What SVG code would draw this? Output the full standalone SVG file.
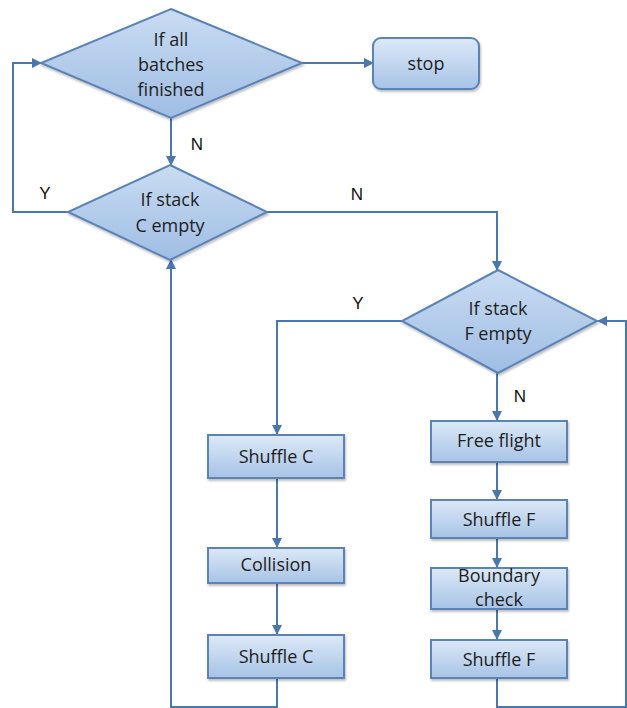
<svg xmlns="http://www.w3.org/2000/svg" width="627" height="708" viewBox="0 0 627 708">
<defs>
<linearGradient id="gb" x1="0" y1="0" x2="0" y2="1">
<stop offset="0" stop-color="#dce9f7"/>
<stop offset="1" stop-color="#a7c3e6"/>
</linearGradient>
<linearGradient id="gd" x1="0" y1="0" x2="0" y2="1">
<stop offset="0" stop-color="#c9dcf2"/>
<stop offset="1" stop-color="#9fbde4"/>
</linearGradient>
<marker id="ah" markerWidth="10" markerHeight="10" refX="9" refY="5" orient="auto" markerUnits="userSpaceOnUse">
<path d="M0,0 L10,5 L0,10 z" fill="#4a78ad"/>
</marker>
<filter id="sh" x="-10%" y="-10%" width="130%" height="140%">
<feDropShadow dx="1" dy="2" stdDeviation="1.2" flood-color="#000" flood-opacity="0.25"/>
</filter>
</defs>
<style>
.box{fill:url(#gb);stroke:#5b83b5;stroke-width:2;filter:url(#sh)}
.dia{fill:url(#gd);stroke:#5b83b5;stroke-width:2;filter:url(#sh)}
.t{font-family:"Open Sans","Noto Sans","Liberation Sans",sans-serif;font-size:18px;fill:#1e1e1e;text-anchor:middle}
.lbl{font-family:"Liberation Sans","Noto Sans",sans-serif;font-size:17px;fill:#111;text-anchor:middle}
.c{fill:none;stroke:#4a78ad;stroke-width:2}
</style>
<rect width="627" height="708" fill="#ffffff"/>
<g id="connectors">
<line class="c" x1="302" y1="63" x2="373" y2="63" marker-end="url(#ah)"/>
<line class="c" x1="171" y1="118" x2="171" y2="165" marker-end="url(#ah)"/>
<polyline class="c" points="68,212 13,212 13,63 41,63" marker-end="url(#ah)"/>
<polyline class="c" points="267,212 497,212 497,270" marker-end="url(#ah)"/>
<polyline class="c" points="402,321 277,321 277,434" marker-end="url(#ah)"/>
<line class="c" x1="497" y1="373" x2="497" y2="420" marker-end="url(#ah)"/>
<line class="c" x1="277" y1="478" x2="277" y2="547" marker-end="url(#ah)"/>
<line class="c" x1="277" y1="583" x2="277" y2="634" marker-end="url(#ah)"/>
<line class="c" x1="497" y1="462" x2="497" y2="499" marker-end="url(#ah)"/>
<line class="c" x1="497" y1="538" x2="497" y2="567" marker-end="url(#ah)"/>
<line class="c" x1="497" y1="609" x2="497" y2="639" marker-end="url(#ah)"/>
<polyline class="c" points="277,678 277,707 171,707 171,260" marker-end="url(#ah)"/>
<polyline class="c" points="497,678 497,707 626,707 626,321 598,321" marker-end="url(#ah)"/>
<text class="lbl" x="197" y="150">N</text>
<text class="lbl" x="45" y="199">Y</text>
<text class="lbl" x="357" y="200">N</text>
<text class="lbl" x="358" y="309">Y</text>
<text class="lbl" x="520" y="402">N</text>
</g>
<g id="n-finished">
<polygon class="dia" points="171,9 302,63 171,118 41,63"/>
<text class="t" x="171" y="46">If all</text>
<text class="t" x="171" y="71">batches</text>
<text class="t" x="171" y="96">finished</text>
</g>
<g id="n-stop">
<rect class="box" x="373" y="38" width="106" height="51" rx="8"/>
<text class="t" x="426" y="70">stop</text>
</g>
<g id="n-stackC">
<polygon class="dia" points="170,165 267,212 170,260 68,212"/>
<text class="t" x="170" y="206">If stack</text>
<text class="t" x="170" y="232">C empty</text>
</g>
<g id="n-stackF">
<polygon class="dia" points="498,270 597,321 498,373 402,321"/>
<text class="t" x="498" y="315">If stack</text>
<text class="t" x="498" y="340">F empty</text>
</g>
<g id="n-shuffleC1">
<rect class="box" x="208" y="435" width="136" height="43"/>
<text class="t" x="276" y="463">Shuffle C</text>
</g>
<g id="n-collision">
<rect class="box" x="208" y="548" width="136" height="35"/>
<text class="t" x="276" y="571">Collision</text>
</g>
<g id="n-shuffleC2">
<rect class="box" x="208" y="635" width="136" height="43"/>
<text class="t" x="276" y="663">Shuffle C</text>
</g>
<g id="n-freeflight">
<rect class="box" x="431" y="421" width="136" height="41"/>
<text class="t" x="499" y="447">Free flight</text>
</g>
<g id="n-shuffleF1">
<rect class="box" x="431" y="500" width="136" height="38"/>
<text class="t" x="499" y="526">Shuffle F</text>
</g>
<g id="n-boundary">
<rect class="box" x="431" y="568" width="136" height="41"/>
<text class="t" x="499" y="582">Boundary</text>
<text class="t" x="499" y="606">check</text>
</g>
<g id="n-shuffleF2">
<rect class="box" x="431" y="640" width="136" height="38"/>
<text class="t" x="499" y="666">Shuffle F</text>
</g>
</svg>
